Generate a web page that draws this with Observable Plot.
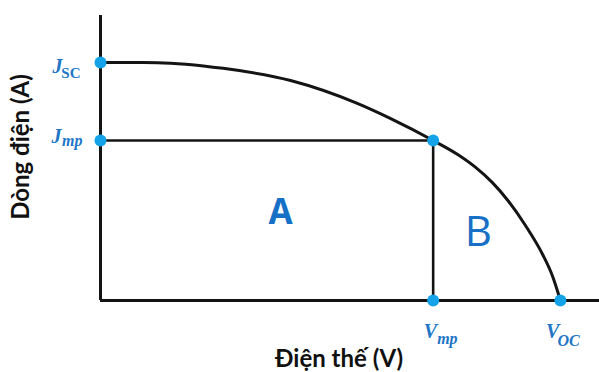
<!DOCTYPE html>
<html><head><meta charset="utf-8">
<script src="https://cdn.jsdelivr.net/npm/d3@7"></script>
<script src="https://cdn.jsdelivr.net/npm/@observablehq/plot@0.6"></script>
<style>body{margin:0;background:#fff}</style>
</head><body><div id="chart"></div>
<script>
// I–V curve (arbitrary units)
const voltage = [0, 0.074, 0.160, 0.248, 0.335, 0.378, 0.434, 0.467, 0.489, 0.511, 0.532, 0.554, 0.577, 0.590, 0.600];
const current = [1.0, 0.999, 0.975, 0.924, 0.828, 0.765, 0.672, 0.611, 0.560, 0.496, 0.418, 0.317, 0.192, 0.100, 0];
const Jsc = 1.0, Jmp = 0.672, Vmp = 0.434, Voc = 0.600;
const xMax = 0.651, yMax = 1.197;

// key points
const dotV = [0, 0, Vmp, Vmp, Voc];
const dotJ = [Jsc, Jmp, Jmp, 0, 0];

// tick labels
const yTickValues = [Jsc, Jmp];
const yTickMain = ["J", "J"];
const yTickSub = ["SC", "mp"];
const xTickValues = [Vmp, Voc];
const xTickMain = ["V", "V"];
const xTickSub = ["mp", "OC"];

// region labels
const regionNames = ["A", "B"];
const regionV = [0.235, 0.493];
const regionJ = [0.368, 0.286];

const xTitle = "Điện thế (V)";
const yTitle = "Dòng điện (A)";

const curve = voltage.map((v, i) => ({v, j: current[i]}));
const dots = dotV.map((v, i) => ({v, j: dotJ[i]}));
const yTicks = yTickValues.map((j, i) => ({j, main: yTickMain[i], sub: yTickSub[i]}));
const xTicks = xTickValues.map((v, i) => ({v, main: xTickMain[i], sub: xTickSub[i]}));
const regions = regionNames.map((name, i) => ({name, v: regionV[i], j: regionJ[i]}));

const ink = "#141414";
const dotColor = "#14a2e8";
const labelColor = "#2176c6";
const regionColor = "#1670c6";
const serif = "'Liberation Serif', 'DejaVu Serif', serif";
const tickStyle = {fill: labelColor, fontFamily: serif, fontWeight: "bold", lineAnchor: "bottom"};

const chart = Plot.plot({
  width: 599,
  height: 372,
  marginLeft: 100,
  marginRight: 0,
  marginTop: 15,
  marginBottom: 72,
  style: {fontFamily: "Lato, 'Open Sans', sans-serif", background: "white"},
  x: {domain: [0, xMax], axis: null},
  y: {domain: [0, yMax], axis: null},
  marks: [
    Plot.ruleY([Jmp], {x1: 0, x2: Vmp, stroke: ink, strokeWidth: 2.6}),
    Plot.ruleX([Vmp], {y1: 0, y2: Jmp, stroke: ink, strokeWidth: 2.6}),
    Plot.line(curve, {x: "v", y: "j", curve: "monotone-x", stroke: ink, strokeWidth: 3}),
    Plot.ruleX([0], {y1: 0, y2: yMax, stroke: ink, strokeWidth: 3}),
    Plot.ruleY([0], {x1: 0, x2: xMax, stroke: ink, strokeWidth: 3}),
    Plot.dot(dots, {x: "v", y: "j", r: 6, fill: dotColor, stroke: "none"}),
    // y tick labels
    Plot.text([yTicks[0]], {...tickStyle, x: () => 0, y: "j", text: "main", textAnchor: "end",
      dx: -38, dy: 11, fontStyle: "italic", fontSize: 20}),
    Plot.text([yTicks[0]], {...tickStyle, x: () => 0, y: "j", text: "sub", textAnchor: "end",
      dx: -20, dy: 16, fontSize: 15}),
    Plot.text([yTicks[1]], {...tickStyle, x: () => 0, y: "j", text: "main", textAnchor: "end",
      dx: -39, dy: 2, fontStyle: "italic", fontSize: 20}),
    Plot.text([yTicks[1]], {...tickStyle, x: () => 0, y: "j", text: "sub", textAnchor: "end",
      dx: -18, dy: 5, fontStyle: "italic", fontSize: 16}),
    // x tick labels
    Plot.text([xTicks[0]], {...tickStyle, x: "v", y: () => 0, text: "main", textAnchor: "end",
      dx: 4, dy: 37, fontStyle: "italic", fontSize: 20}),
    Plot.text([xTicks[0]], {...tickStyle, x: "v", y: () => 0, text: "sub", textAnchor: "start",
      dx: 4, dy: 43, fontStyle: "italic", fontSize: 16}),
    Plot.text([xTicks[1]], {...tickStyle, x: "v", y: () => 0, text: "main", textAnchor: "end",
      dx: -1, dy: 37, fontStyle: "italic", fontSize: 20}),
    Plot.text([xTicks[1]], {...tickStyle, x: "v", y: () => 0, text: "sub", textAnchor: "start",
      dx: -3, dy: 45, fontStyle: "italic", fontSize: 16}),
    // region labels
    Plot.text([regions[0]], {x: "v", y: "j", text: "name", fill: regionColor, fontFamily: "'Open Sans', sans-serif",
      fontSize: 35, fontWeight: "bold", lineAnchor: "middle"}),
    Plot.text([regions[1]], {x: "v", y: "j", text: "name", fill: regionColor, fontFamily: "'Open Sans', sans-serif",
      fontSize: 42, fontWeight: 500, lineAnchor: "middle"}),
    // axis titles
    Plot.text([xTitle], {frameAnchor: "bottom", textAnchor: "middle", dx: -11, dy: 66, lineAnchor: "bottom",
      fontSize: 24, fontWeight: "bold", fill: "#111"}),
    Plot.text([yTitle], {frameAnchor: "left", textAnchor: "middle", dx: -79, dy: -11, rotate: -90,
      lineAnchor: "middle", fontSize: 24, fontWeight: "bold", fill: "#111"})
  ]
});
document.getElementById("chart").appendChild(chart);
</script>
</body></html>
